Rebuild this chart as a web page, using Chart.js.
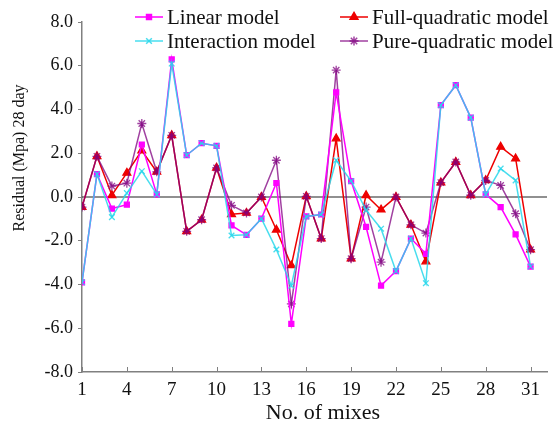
<!DOCTYPE html>
<html>
<head>
<meta charset="utf-8">
<script src="https://cdn.jsdelivr.net/npm/chart.js@4.4.1/dist/chart.umd.min.js"></script>
<style>
  html, body { margin: 0; padding: 0; background: #fff; }
  #wrap { width: 558px; height: 434px; position: relative; }
</style>
</head>
<body>
<div id="wrap"><canvas id="residualChart" width="558" height="434"></canvas></div>
<script>
/* ── Data ───────────────────────────────────────────────────── */
const mixes = Array.from({ length: 31 }, (_, i) => i + 1);
const xTicks = [1, 4, 7, 10, 13, 16, 19, 22, 25, 28, 31];
const yTicks = [-8, -6, -4, -2, 0, 2, 4, 6, 8];

const linearModel = [-3.9, 1.05, -0.53, -0.35, 2.4, 0.12, 6.29, 1.91, 2.46, 2.34,
  -1.3, -1.73, -0.99, 0.64, -5.8, -0.89, -0.8, 4.78, 0.73, -1.37,
  -4.05, -3.39, -1.9, -2.6, 4.2, 5.11, 3.63, 0.12, -0.46, -1.71, -3.18];
const interactionModel = [-3.9, 1.05, -0.92, 0.18, 1.18, 0.12, 6.1, 1.91, 2.46, 2.34,
  -1.76, -1.73, -0.99, -2.4, -4.05, -0.89, -0.8, 1.68, 0.73, -0.6,
  -1.45, -3.39, -1.9, -3.94, 4.2, 5.11, 3.63, 0.12, 1.3, 0.76, -3.18];
const fullQuadModel = [-0.46, 1.86, 0.08, 1.1, 2.12, 1.15, 2.82, -1.57, -1.04, 1.33,
  -0.79, -0.73, 0.0, -1.5, -3.13, 0.03, -1.9, 2.67, -2.82, 0.08,
  -0.58, 0.0, -1.27, -2.95, 0.66, 1.6, 0.08, 0.76, 2.29, 1.76, -2.41];
const pureQuadModel = [-0.46, 1.86, 0.5, 0.63, 3.36, 1.15, 2.82, -1.57, -1.04, 1.33,
  -0.38, -0.73, 0.0, 1.68, -4.89, 0.03, -1.9, 5.8, -2.82, -0.46,
  -2.98, 0.0, -1.27, -1.65, 0.66, 1.6, 0.08, 0.76, 0.53, -0.76, -2.41];

const SERIF = '"Liberation Serif", "Times New Roman", serif';

const toPoints = arr => arr.map((v, i) => ({ x: mixes[i], y: v }));

/* ── Series styles ──────────────────────────────────────────── */
const series = [
  { label: "Linear model", data: linearModel, color: "#ff00ff", style: "rect", r: 3.5, order: 1 },
  { label: "Full-quadratic model", data: fullQuadModel, color: "#ee0000", style: "triangle", r: 4.5, order: 3 },
  { label: "Interaction model", data: interactionModel, color: "rgba(40,215,235,0.85)", style: "crossRot", r: 4, order: 0 },
  { label: "Pure-quadratic model", data: pureQuadModel, color: "rgba(128,0,128,0.75)", style: "star", r: 4.5, order: 2 }
];

/* ── Extras: zero line, inward x ticks, titles, 2x2 legend ───── */
const decor = {
  id: "decor",
  beforeDatasetsDraw(chart) {
    const { ctx, chartArea: a, scales: { x, y } } = chart;
    ctx.save();
    // zero line
    const y0 = y.getPixelForValue(0);
    ctx.strokeStyle = "#222";
    ctx.lineWidth = 1.2;
    ctx.beginPath();
    ctx.moveTo(a.left, y0);
    ctx.lineTo(a.right, y0);
    ctx.stroke();
    // x tick marks pointing inward
    ctx.strokeStyle = "#808080";
    ctx.lineWidth = 1;
    xTicks.forEach(v => {
      const px = Math.round(x.getPixelForValue(v)) + 0.5;
      ctx.beginPath();
      ctx.moveTo(px, a.bottom);
      ctx.lineTo(px, a.bottom - 5);
      ctx.stroke();
    });
    ctx.restore();
  },
  afterDraw(chart) {
    const ctx = chart.ctx;
    ctx.save();
    ctx.fillStyle = "#111";
    ctx.textBaseline = "middle";

    // axis titles
    ctx.font = "16px " + SERIF;
    ctx.textAlign = "center";
    ctx.save();
    ctx.translate(20, 158);
    ctx.rotate(-Math.PI / 2);
    ctx.fillText("Residual (Mpa) 28 day", 0, 0);
    ctx.restore();
    ctx.font = "22px " + SERIF;
    ctx.fillText("No. of mixes", 323, 413);

    // legend, two columns
    const slots = [[135, 17], [340, 17], [135, 41], [340, 41]];
    ctx.font = "21px " + SERIF;
    ctx.textAlign = "left";
    series.forEach((s, i) => {
      const [lx, ly] = slots[i];
      ctx.strokeStyle = s.color;
      ctx.lineWidth = 1.5;
      ctx.beginPath();
      ctx.moveTo(lx, ly);
      ctx.lineTo(lx + 28, ly);
      ctx.stroke();
      ctx.fillStyle = s.color;
      Chart.helpers.drawPoint(ctx, {
        pointStyle: s.style, radius: s.r, rotation: 0, borderWidth: 1.3
      }, lx + 14, ly);
      ctx.fillStyle = "#111";
      ctx.fillText(s.label, lx + 32, ly + 1);
    });
    ctx.restore();
  }
};

/* ── Chart ──────────────────────────────────────────────────── */
new Chart(document.getElementById("residualChart"), {
  type: "line",
  data: {
    datasets: series.map(s => ({
      label: s.label,
      data: toPoints(s.data),
      borderColor: s.color,
      backgroundColor: s.color,
      pointBackgroundColor: s.color,
      pointBorderColor: s.color,
      pointStyle: s.style,
      pointRadius: s.r,
      pointBorderWidth: 1.3,
      borderWidth: 1.5,
      tension: 0,
      fill: false,
      order: s.order
    }))
  },
  options: {
    responsive: false,
    animation: false,
    layout: { padding: { top: 22, right: 11, left: 0, bottom: 0 } },
    plugins: { legend: { display: false }, tooltip: { enabled: false } },
    scales: {
      x: {
        type: "linear",
        min: 1,
        max: 32.1,
        afterBuildTicks: s => { s.ticks = xTicks.map(v => ({ value: v })); },
        afterFit: s => { s.height = 62; },
        grid: { drawOnChartArea: false, drawTicks: false },
        border: { color: "#808080", width: 1.5 },
        ticks: { font: { family: SERIF, size: 19 }, color: "#111", padding: 7, maxRotation: 0 }
      },
      y: {
        min: -8,
        max: 8,
        afterBuildTicks: s => { s.ticks = yTicks.map(v => ({ value: v })); },
        afterFit: s => { s.width = 82; },
        grid: { drawOnChartArea: false, drawTicks: true, tickLength: 4, color: "#808080" },
        border: { color: "#808080", width: 1.5 },
        ticks: {
          font: { family: SERIF, size: 18 }, color: "#111", padding: 5,
          callback: v => v.toFixed(1)
        }
      }
    }
  },
  plugins: [decor]
});
</script>
</body>
</html>
